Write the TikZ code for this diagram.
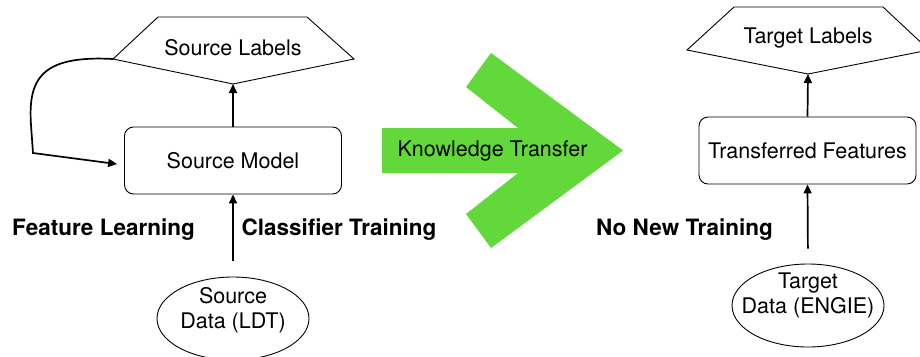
\documentclass[tikz,border=0pt]{standalone}
\usepackage{fontspec}
\setmainfont{TeX Gyre Heros}
\usetikzlibrary{arrows.meta,positioning,shapes.geometric,calc}
\definecolor{ktgreen}{HTML}{62D83A}
\tikzset{
  box/.style={draw=black, line width=0.9pt, rounded corners=9pt, align=center, minimum width=217pt, minimum height=67pt, inner sep=0pt},
  dat/.style={draw=black, line width=0.9pt, ellipse, minimum width=152pt, minimum height=83pt, inner sep=0pt},
  lbl/.style={draw=black, line width=0.9pt, line join=miter},
  tag/.style={font=\fontsize{22.5}{26}\selectfont\bfseries},
  arr/.style={-{Triangle[length=9pt,width=8pt]}, line width=1.7pt, color=black},
}
\begin{document}
\begin{tikzpicture}[x=1pt, y=-1pt, font=\fontsize{21.5}{25}\selectfont]
  \useasboundingbox (0,0) rectangle (920,356);
  % source side
  \node[box] (smod) at (233,160.5) {Source Model};
  \node[dat] (sdat) at (233,318.5) {};
  \node[align=center] (sdattxt) at ([yshift=8pt]sdat.center) {Source\\Data (LDT)};
  \draw[lbl] (158,17) -- (307,17) -- (354,59) -- (233,84) -- (113,59) -- cycle;
  \coordinate (slabtip) at (233,84);
  \coordinate (slabw) at (113,59);
  \node (slab) at (233,48) {Source Labels};
  \draw[arr, shorten <=16pt] (sdat.north) -- (smod.south);
  \draw[arr] (smod.north) -- (slabtip);
  \draw[arr, shorten >=7pt] (slabw) .. controls (40,55) and (28,80) .. (31,125) -- (33,153) -- ([yshift=-4.5pt]smod.west);
  \node[tag] (featl) at (103.5,230) {Feature Learning};
  \node[tag] (clstr) at (339,230) {Classifier Training};
  % knowledge transfer arrow
  \fill[ktgreen] (382,128) -- (518,128) -- (466,87) -- (491,53) -- (623,150.5) -- (491,248) -- (466,214) -- (518,173) -- (382,173) -- cycle;
  \node (kt) at (492.5,151) {Knowledge Transfer};
  % target side
  \node[box] (tfeat) at (807.5,150.5) {Transferred Features};
  \node[dat] (tdat) at (808,305.5) {};
  \node[align=center] (tdattxt) at ([yshift=10pt]tdat.center) {Target\\Data (ENGIE)};
  \draw[lbl] (734,7) -- (883,7) -- (929,50) -- (808,74) -- (687,50) -- cycle;
  \coordinate (tlabtip) at (808,74);
  \node (tlab) at (808,38) {Target Labels};
  \draw[arr, shorten <=15pt] (tdat.north) -- (tfeat.south);
  \draw[arr] (tfeat.north) -- (tlabtip);
  \node[tag] (nonew) at (684.5,230) {No New Training};
\end{tikzpicture}
\end{document}
